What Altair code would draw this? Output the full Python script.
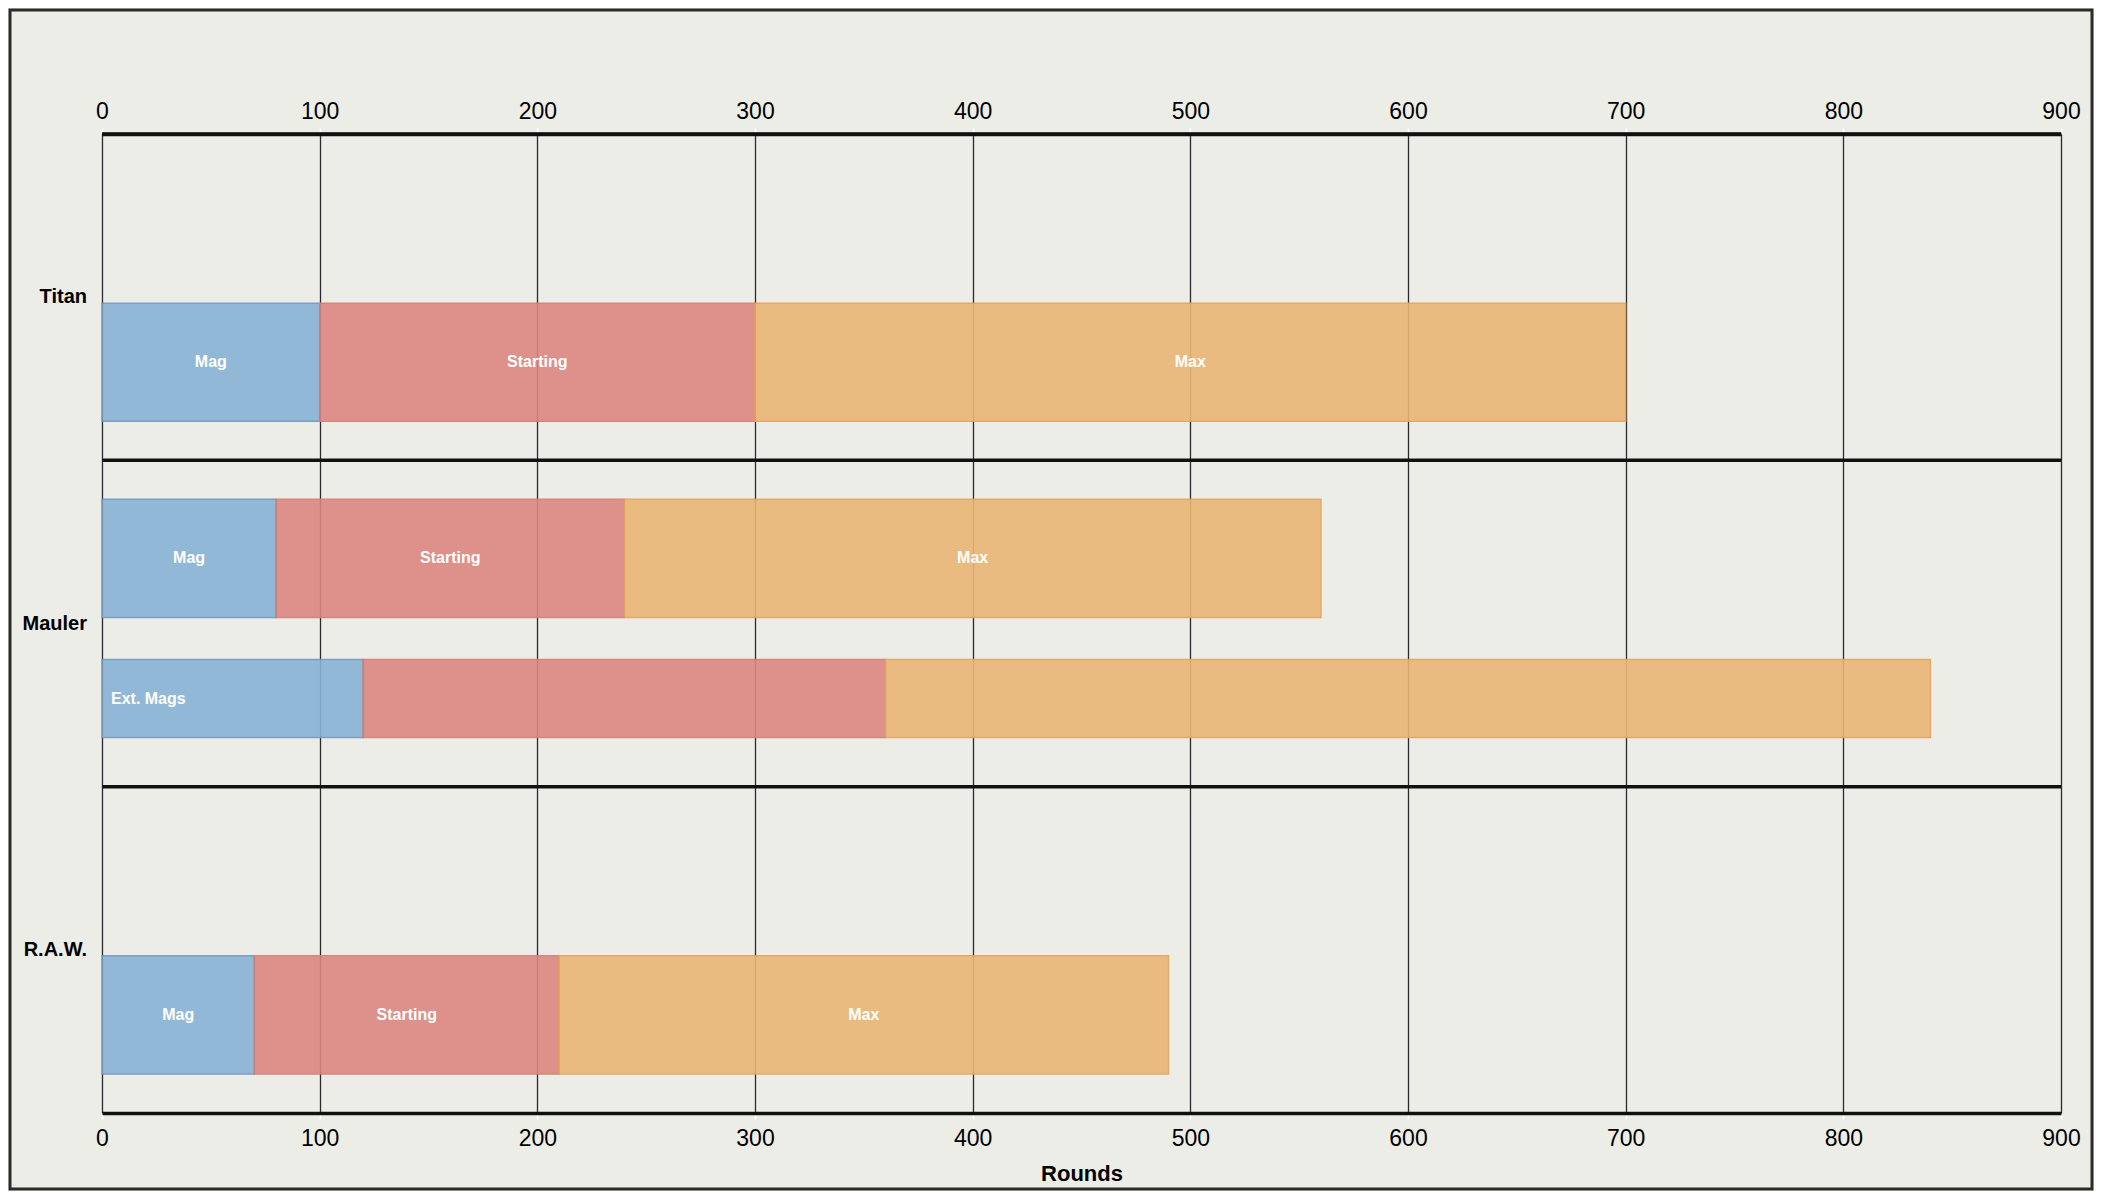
import altair as alt
import pandas as pd

# ---- data ----
weapons = ["Titan", "Mauler", "Mauler", "R.A.W."]
variants = ["Standard", "Standard", "Ext. Mags", "Standard"]
lanes = ["lower", "upper", "lower", "lower"]
mag_rounds = [100, 80, 120, 70]
starting_rounds = [200, 160, 240, 140]
max_rounds = [400, 320, 480, 280]
segments = ["Mag", "Starting", "Max"]
weapon_order = ["Titan", "Mauler", "R.A.W."]
x_ticks = [0, 100, 200, 300, 400, 500, 600, 700, 800, 900]

rows = []
for w, v, ln, m, s, mx in zip(weapons, variants, lanes, mag_rounds, starting_rounds, max_rounds):
    start = 0
    for seg, val in zip(segments, [m, s, mx]):
        if v == "Standard":
            label = seg
        else:
            label = v if seg == "Mag" else ""
        rows.append(dict(weapon=w, variant=v, lane=ln, segment=seg,
                         start=start, end=start + val, label=label))
        start += val
df = pd.DataFrame(rows)
sep_df = pd.DataFrame({"weapon": weapon_order})

W, H = 1959, 979
BG = "#EDEDE8"
FONT = "Liberation Sans"
fills = ["#89B3D6", "#DC8880", "#EAB675"]
strokes = ["#7396BB", "#D27C72", "#E2A45E"]

xscale = alt.Scale(domain=[0, 900], nice=False, zero=True)
yscale = alt.Scale(domain=weapon_order, paddingInner=0, paddingOuter=0)
# lanes inside each weapon band: standard bars are thick, the extended-mag bar is thinner
yoff_std = alt.YOffset("lane:N", scale=alt.Scale(type="band", domain=["upper", "lower"],
                                                 paddingInner=0.092, paddingOuter=0.3))
yoff_ext = alt.YOffset("lane:N", scale=alt.Scale(type="band", domain=["upper", "lower"],
                                                 paddingInner=0.48, paddingOuter=0.327))

common_axis = dict(values=x_ticks, labelFont=FONT, labelFontSize=23, labelColor="#000000",
                   labelFlush=False, domainColor="#111111", domainWidth=3.5,
                   tickColor="#FFFFFF", tickSize=6, tickWidth=1.5, format="d")

bottom_axis = alt.Axis(orient="bottom", title="Rounds", titleFont=FONT, titleFontSize=22,
                       titleFontWeight="bold", titleColor="#000000", titlePadding=13,
                       labelPadding=8, grid=True, gridColor="#2B2B2B", gridWidth=1.3,
                       **common_axis)
top_axis = alt.Axis(orient="top", title=None, labelPadding=5, grid=False, **common_axis)

y_enc = alt.Y("weapon:N", scale=yscale, axis=None)
fill_enc = alt.Fill("segment:N", scale=alt.Scale(domain=segments, range=fills), legend=None)
stroke_enc = alt.Stroke("segment:N", scale=alt.Scale(domain=segments, range=strokes), legend=None)

std = alt.Chart(df).transform_filter(alt.datum.variant == "Standard")
ext = alt.Chart(df).transform_filter(alt.datum.variant != "Standard")

bars_std = std.mark_bar(opacity=0.9, strokeWidth=1.5).encode(
    x=alt.X("start:Q", scale=xscale, axis=bottom_axis),
    x2="end:Q",
    y=y_enc,
    yOffset=yoff_std,
    fill=fill_enc,
    stroke=stroke_enc,
)

bars_ext = ext.mark_bar(opacity=0.9, strokeWidth=1.5).encode(
    x=alt.X("start:Q", scale=xscale, axis=None),
    x2="end:Q",
    y=y_enc,
    yOffset=yoff_ext,
    fill=fill_enc,
    stroke=stroke_enc,
)

labels = std.transform_calculate(
    mid="(datum.start + datum.end) / 2"
).mark_text(color="#FFFFFF", fontWeight="bold", fontSize=16, font=FONT).encode(
    x=alt.X("mid:Q", scale=xscale, axis=top_axis),
    y=y_enc,
    yOffset=yoff_std,
    text="label:N",
)

ext_labels = ext.transform_filter(alt.datum.label != "").mark_text(
    color="#FFFFFF", fontWeight="bold", fontSize=16, font=FONT, align="left", dx=9
).encode(
    x=alt.X("start:Q", scale=xscale, axis=None),
    y=y_enc,
    yOffset=yoff_ext,
    text="label:N",
)

# row (weapon) labels on the left, centred on each band
row_labels = alt.Chart(sep_df).mark_text(
    align="right", baseline="middle", fontWeight="bold", fontSize=20, font=FONT,
    color="#000000", dx=-15
).encode(
    y=y_enc,
    x=alt.value(0),
    text="weapon:N",
)

separators = alt.Chart(sep_df).mark_rule(color="#111111", strokeWidth=3.5).encode(
    y=alt.Y("weapon:N", scale=yscale, bandPosition=0, axis=None),
    x=alt.value(0),
    x2=alt.value(W),
)

frame = alt.Chart(pd.DataFrame({"frame": [1]})).mark_rect(
    fill="transparent", stroke="#2B2B2B", strokeWidth=3, clip=False
).encode(
    x=alt.value(-92), x2=alt.value(W + 31), y=alt.value(-124), y2=alt.value(H + 76)
)

chart = alt.layer(
    bars_std, bars_ext, labels, ext_labels, row_labels, separators, frame
).resolve_axis(
    x="independent"
).resolve_scale(
    yOffset="independent"
).properties(
    width=W, height=H,
    autosize=alt.AutoSizeParams(type="none"),
    padding={"left": 94, "top": 126, "right": 33, "bottom": 78},
    background=BG,
).configure_view(stroke=None)

chart.save("out.html", embed_options={"renderer": "svg", "actions": False})
